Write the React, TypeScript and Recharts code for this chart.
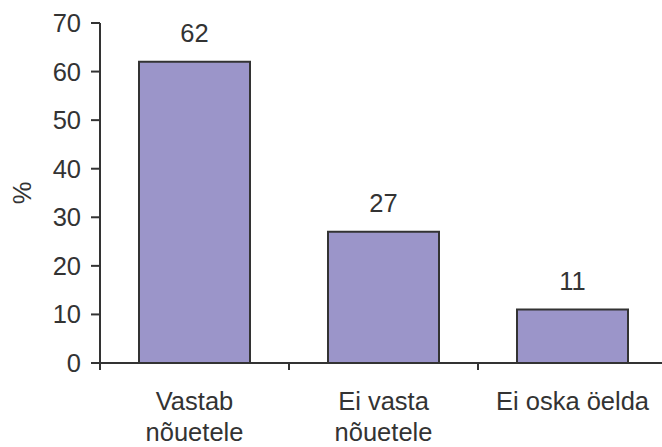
import { BarChart, Bar, XAxis, YAxis, LabelList } from "recharts"

const categories = ["Vastab\nnõuetele", "Ei vasta\nnõuetele", "Ei oska öelda"]
const values = [62, 27, 11]
const yTicks = [0, 10, 20, 30, 40, 50, 60, 70]

const data = categories.map((name, i) => ({ name, value: values[i] }))

const CHART_W = 670
const CHART_H = 447
const PLOT_LEFT = 100
const PLOT_RIGHT = 3
const BAND = (CHART_W - PLOT_LEFT - PLOT_RIGHT) / categories.length
const INK = "#333333"
const FONT = "'Liberation Sans', Arial, Helvetica, sans-serif"

function CategoryTick(props: any) {
  const { x, y, payload } = props
  const lines = String(payload.value).split("\n")
  const edge = x - BAND / 2
  return (
    <g>
      <line x1={edge} y1={y} x2={edge} y2={y + 7} stroke={INK} strokeWidth={2} />
      <text x={x} y={y + 47} textAnchor="middle" fill={INK} fontSize={25.5} fontFamily={FONT}>
        {lines.map((l, i) => (
          <tspan key={i} x={x} dy={i === 0 ? 0 : 31}>
            {l}
          </tspan>
        ))}
      </text>
    </g>
  )
}

export default function App() {
  return (
    <div style={{ position: "absolute", left: 0, top: 0, width: 662, height: CHART_H, overflow: "hidden", background: "#fff" }}>
      <BarChart
        width={CHART_W}
        height={CHART_H}
        data={data}
        margin={{ top: 23, right: PLOT_RIGHT, left: 0, bottom: 0 }}
        barSize={111}
      >
        <XAxis
          dataKey="name"
          height={84}
          axisLine={{ stroke: INK, strokeWidth: 2 }}
          tickLine={false}
          tickSize={0}
          tickMargin={0}
          interval={0}
          tick={<CategoryTick />}
        />
        <YAxis
          width={PLOT_LEFT}
          domain={[0, 70]}
          ticks={yTicks}
          interval={0}
          axisLine={{ stroke: INK, strokeWidth: 2 }}
          tickLine={{ stroke: INK, strokeWidth: 2 }}
          tickSize={9}
          tickMargin={10}
          tick={{ fill: INK, fontSize: 25.5, fontFamily: FONT }}
          label={{
            content: () => (
              <text
                x={22}
                y={193}
                transform="rotate(-90 22 193)"
                textAnchor="middle"
                dominantBaseline="central"
                fill={INK}
                fontSize={25.5}
                fontFamily={FONT}
              >
                %
              </text>
            ),
          }}
        />
        <Bar dataKey="value" fill="#9b95c9" stroke={INK} strokeWidth={2} isAnimationActive={false}>
          <LabelList dataKey="value" position="top" offset={20} fill={INK} fontSize={25.5} fontFamily={FONT} />
        </Bar>
      </BarChart>
    </div>
  )
}
